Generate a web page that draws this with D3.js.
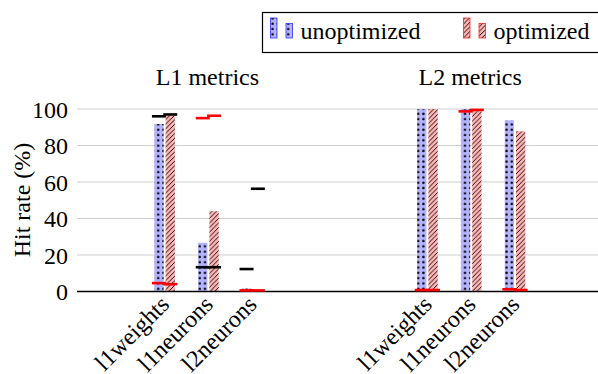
<!DOCTYPE html>
<html>
<head>
<meta charset="utf-8">
<script src="https://cdn.jsdelivr.net/npm/d3@7"></script>
</head>
<body style="margin:0; background:#fff">
<script>
// data
var groups = ["L1 metrics", "L2 metrics"];
var categories = ["l1weights", "l1neurons", "l2neurons"];
var seriesNames = ["unoptimized", "optimized"];
var yTicks = [0, 20, 40, 60, 80, 100];

// bar heights, per group, per category
var unoptimized = [[91.8, 26.7, 1.6], [100, 100, 93.8]];
var optimized = [[96.4, 44, 0.5], [100, 99.6, 87.8]];

// marker lines per bar: [unoptimized, optimized]
var blackMarks = [[[96, 97], [13.3, 13.3], [12.3, 56.3]], [null, null, null]];
var redMarks = [[[4.6, 4.0], [95, 96.3], [0.6, 0.6]], [[0.8, 0.8], [98.7, 99.5], [1.2, 0.8]]];

var W = 598, H = 374;
var margin = { left: 77, top: 109, bottom: 291.5 };
var FONT = "Liberation Serif";
var FS = "24px";

var svg = d3.select("body").append("svg")
  .attr("width", W)
  .attr("height", H)
  .style("display", "block");

// serif text everywhere
function serif(sel) {
  return sel.style("font-family", "'" + FONT + "'", "important").style("font-size", FS);
}

var defs = svg.append("defs");

// dotted pattern for unoptimized
var pDots = defs.append("pattern")
  .attr("id", "dots")
  .attr("patternUnits", "userSpaceOnUse")
  .attr("width", 5.2).attr("height", 5.3);
pDots.append("rect").attr("width", 5.2).attr("height", 5.3).attr("fill", "#b3b3ff");
pDots.append("circle").attr("cx", 2.2).attr("cy", 2.6).attr("r", 1.2).attr("fill", "#000");

// north east lines for optimized
var pLines = defs.append("pattern")
  .attr("id", "lines")
  .attr("patternUnits", "userSpaceOnUse")
  .attr("width", 4.6).attr("height", 4.6);
pLines.append("rect").attr("width", 4.6).attr("height", 4.6).attr("fill", "#ffb3b3");
pLines.append("path").attr("d", "M-1,5.6 L5.6,-1 M-1,1 L1,-1 M3.6,5.6 L5.6,3.6")
  .attr("stroke", "#000").attr("stroke-width", 0.9);

var fills = ["url(#dots)", "url(#lines)"];
var edgeColors = ["#3333ff", "#ff2222"];

// position scale: group 0 at slots 0..2, group 1 at slots 6..8
var groupBase = [0, 6];
var x = d3.scaleLinear().domain([-2, 10]).range([margin.left, margin.left + 12 * 43.8]);
var y = d3.scaleLinear().domain([0, 100]).range([margin.bottom, margin.top]);

// grid
svg.append("g").selectAll("line")
  .data(yTicks.filter(d => d > 0))
  .enter().append("line")
  .attr("x1", margin.left).attr("x2", W)
  .attr("y1", d => y(d)).attr("y2", d => y(d))
  .attr("stroke", "#cfcfcf").attr("stroke-width", 1);

// y axis labels
var yAxis = svg.append("g")
  .attr("transform", "translate(" + margin.left + ",0)")
  .call(d3.axisLeft(y).tickValues(yTicks).tickSize(0).tickPadding(9));
yAxis.select(".domain").remove();
serif(yAxis.selectAll("text"))
  .attr("fill", "#000")
  .attr("dy", "0.35em");

serif(svg.append("text"))
  .attr("transform", "translate(30,200) rotate(-90)")
  .attr("text-anchor", "middle")
  .text("Hit rate (%)");

var barW = 9.3, gap = 1.0, markW = 14;
var barX = (g, j, s) => {
  var c = x(groupBase[g] + j);
  return s === 0 ? c - gap - barW : c + gap;
};

var bars = svg.append("g");
groups.forEach((gName, g) => {
  var series = [unoptimized[g], optimized[g]];
  series.forEach((vals, s) => {
    bars.append("g").selectAll("rect")
      .data(vals)
      .enter().append("rect")
      .attr("x", (d, j) => barX(g, j, s))
      .attr("width", barW)
      .attr("y", d => y(d))
      .attr("height", d => y(0) - y(d))
      .attr("fill", fills[s]);
  });
});

// x axis line
svg.append("line")
  .attr("x1", margin.left).attr("x2", W)
  .attr("y1", y(0)).attr("y2", y(0))
  .attr("stroke", "#000").attr("stroke-width", 1.3);

// marker lines
var marks = svg.append("g");
function drawMarks(table, color) {
  table.forEach((row, g) => {
    row.forEach((pair, j) => {
      if (!pair) return;
      pair.forEach((v, s) => {
        var cx = barX(g, j, s) + barW / 2;
        marks.append("line")
          .attr("x1", cx - markW / 2).attr("x2", cx + markW / 2)
          .attr("y1", y(v)).attr("y2", y(v))
          .attr("stroke", color).attr("stroke-width", 2.6);
      });
    });
  });
}
drawMarks(blackMarks, "#000");
drawMarks(redMarks, "#ff0000");

// group titles
serif(svg.append("g").selectAll("text")
  .data(groups)
  .enter().append("text"))
  .attr("x", (d, g) => x(groupBase[g] + 1) - 1)
  .attr("y", 85)
  .attr("text-anchor", "middle")
  .text(d => d);

// category labels
groups.forEach((gName, g) => {
  serif(svg.append("g").selectAll("text")
    .data(categories)
    .enter().append("text"))
    .attr("transform", (d, j) => "translate(" + (x(groupBase[g] + j)) + ",300) rotate(-45)")
    .attr("text-anchor", "end")
    .attr("dy", "0.35em")
    .text(d => d);
});

// legend
var lg = svg.append("g");
lg.append("rect")
  .attr("x", 262.5).attr("y", 12.5)
  .attr("width", 400).attr("height", 40)
  .attr("fill", "#fff").attr("stroke", "#000").attr("stroke-width", 1.2);
var legX = [270.5, 463.5];
seriesNames.forEach((name, s) => {
  var ix = legX[s];
  lg.append("rect").attr("x", ix).attr("y", 18).attr("width", 6.5).attr("height", 20)
    .attr("fill", fills[s]).attr("stroke", edgeColors[s]).attr("stroke-width", 0.8);
  lg.append("rect").attr("x", ix + 15.5).attr("y", 23.5).attr("width", 6.5).attr("height", 14.5)
    .attr("fill", fills[s]).attr("stroke", edgeColors[s]).attr("stroke-width", 0.8);
  serif(lg.append("text"))
    .attr("x", ix + 30).attr("y", 38.5)
    .text(name);
});
</script>
</body>
</html>
